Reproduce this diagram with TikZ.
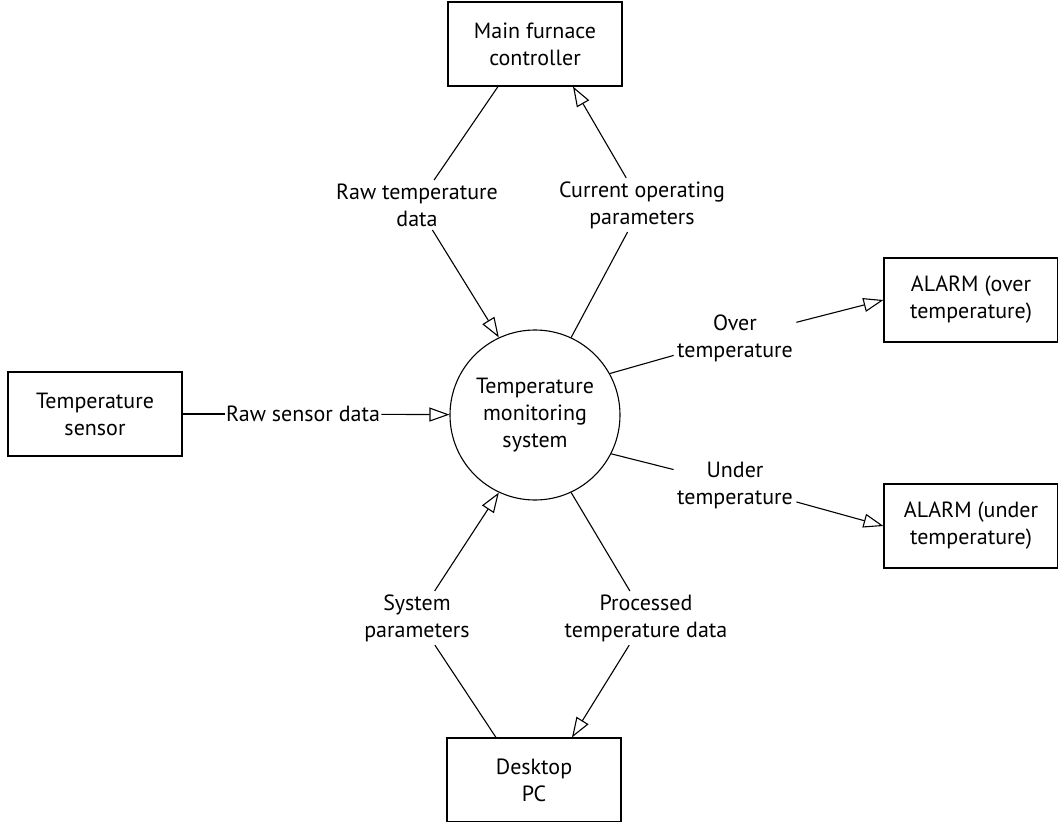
\documentclass[tikz,border=0pt]{standalone}
\usepackage{fontspec}
\setmainfont{PT Sans}
\usetikzlibrary{arrows.meta}

\begin{document}
\begin{tikzpicture}[
    x=1pt, y=-1pt,
    font=\fontsize{22}{27}\selectfont,
    line width=1.1pt,
    box/.style={rectangle, draw, minimum width=174pt, minimum height=84pt, align=center},
    proc/.style={circle, draw, minimum size=170pt, inner sep=0pt, align=center},
    lbl/.style={align=center, inner sep=3pt},
    arr/.style={-{Triangle[length=20pt, width=14pt, fill=white]}}
]
\useasboundingbox (0,0) rectangle (1058,822);

% External entities round the process
\node[box] (furnace) at (535,44) {Main furnace\\controller};
\node[box] (sensor) at (95,414) {Temperature\\sensor};
\node[box] (alarmover) at (971,300) {ALARM (over\\temperature)};
\node[box] (alarmunder) at (971,526) {ALARM (under\\temperature)};
\node[box] (pc) at (534,780) {Desktop\\PC};
\node[proc] (tms) at (535,415) {Temperature\\monitoring\\system};

% Flow labels
\node[lbl] (rawtemp) at (417,205) {Raw temperature\\data};
\node[lbl] (curop) at (642,205) {Current operating\\parameters};
\node[lbl, inner sep=1pt] (rawsens) at (303,414) {Raw sensor data};
\node[lbl] (over) at (735,338) {Over\\temperature};
\node[lbl] (under) at (735,485) {Under\\temperature};
\node[lbl] (syspar) at (417,618) {System\\parameters};
\node[lbl] (procdat) at (646,618) {Processed\\temperature data};

% Flows: each one broken by its label
\draw ([xshift=-37pt]furnace.south) -- (rawtemp);
\draw[arr] (rawtemp) -- (tms.115);
\draw (tms.65) -- (curop);
\draw[arr] (curop) -- ([xshift=38pt]furnace.south);

\draw (sensor.east) -- (rawsens);
\draw[arr] (rawsens) -- (tms);

\draw (tms.29) -- (over);
\draw[arr] (over) -- (alarmover.west);
\draw (tms.-27) -- (under);
\draw[arr] (under) -- (alarmunder.west);

\draw (tms.-65) -- (procdat);
\draw[arr] (procdat) -- ([xshift=38pt]pc.north);
\draw ([xshift=-38pt]pc.north) -- (syspar);
\draw[arr] (syspar) -- (tms.-115);
\end{tikzpicture}
\end{document}
